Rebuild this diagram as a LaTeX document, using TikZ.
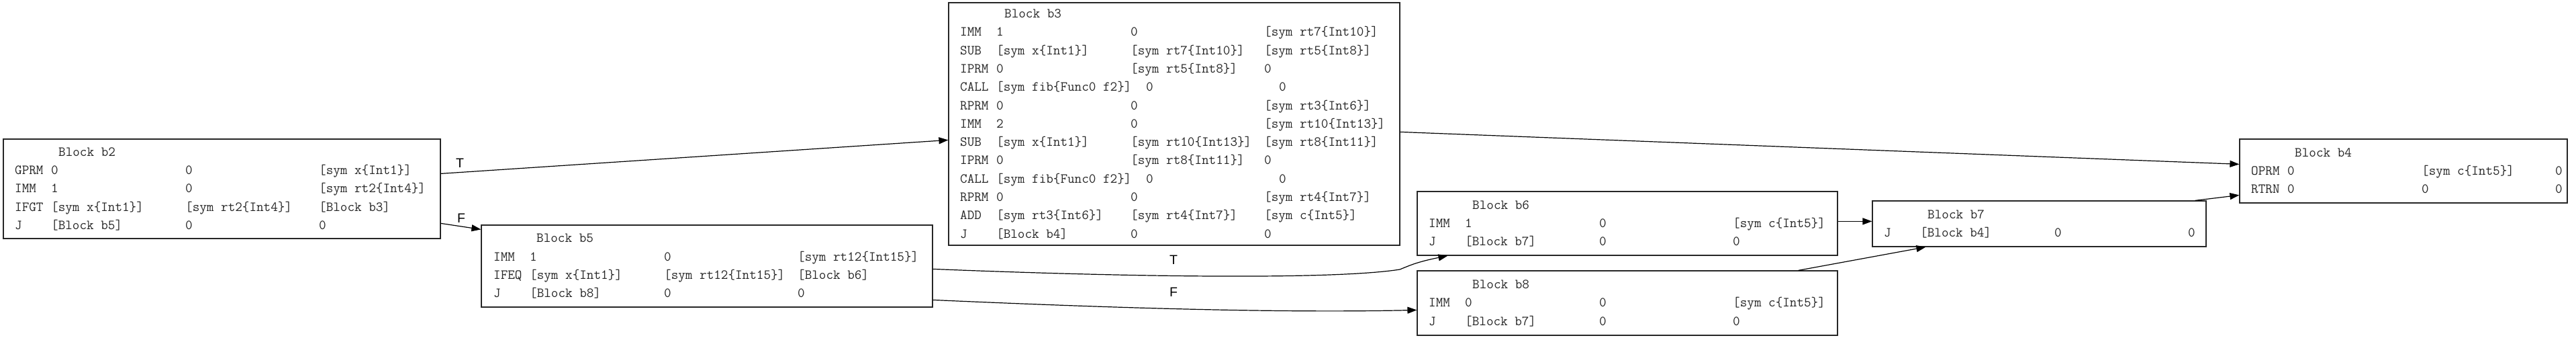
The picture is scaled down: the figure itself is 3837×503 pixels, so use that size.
\documentclass[tikz,border=0pt]{standalone}
\usepackage{fontspec}
\newfontfamily\labfont{Liberation Sans}
\usetikzlibrary{arrows.meta,calc}
\newcommand\insrow[4]{\makebox[54pt][l]{#1}\makebox[200pt][l]{#2}\makebox[199pt][l]{#3}#4}
\newcommand\callrow{\makebox[54pt][l]{CALL}\makebox[223pt][l]{[sym fib\{Func0 f2\}]}\makebox[198pt][l]{0}0}
\begin{document}
\begin{tikzpicture}[x=1pt,y=-1pt,
  blockbox/.style={draw=black!85, line width=1.2pt, rectangle, inner sep=0pt},
  rowtext/.style={font=\fontsize{20.57}{20}\selectfont\ttfamily, inner sep=0pt, anchor=base west, text=black!85, yshift=-0.5pt},
  edge/.style={draw=black, line width=1.2pt, -{Triangle[length=14pt,width=10pt]}},
  elabel/.style={font=\fontsize{19.5}{19.5}\selectfont\labfont, inner sep=0pt}]
\useasboundingbox (0,0) rectangle (3837,503);

% ---------- boxes ----------
\node[blockbox, minimum width=651pt, minimum height=148pt] (b2) at (330.5,281) {};
\node[blockbox, minimum width=672pt, minimum height=361pt] (b3) at (1749,184.5) {};
\node[blockbox, minimum width=672pt, minimum height=122pt] (b5) at (1053,396) {};
\node[blockbox, minimum width=626pt, minimum height=95pt] (b6) at (2424,332.5) {};
\node[blockbox, minimum width=626pt, minimum height=96pt] (b8) at (2424,451) {};
\node[blockbox, minimum width=497pt, minimum height=68pt] (b7) at (3037.5,333) {};
\node[blockbox, minimum width=488pt, minimum height=95pt] (b4) at (3580,254.5) {};

% ---------- b2 ----------
\node[rowtext] (b2t) at (87,231.7) {Block b2};
\node[rowtext] (b2r1) at (22,259.0) {\insrow{GPRM}{0}{0}{[sym x\{Int1\}]}};
\node[rowtext] (b2r2) at (22,286.3) {\insrow{IMM}{1}{0}{[sym rt2\{Int4\}]}};
\node[rowtext] (b2r3) at (22,313.6) {\insrow{IFGT}{[sym x\{Int1\}]}{[sym rt2\{Int4\}]}{[Block b3]}};
\node[rowtext] (b2r4) at (22,340.9) {\insrow{J}{[Block b5]}{0}{0}};

% ---------- b3 ----------
\node[rowtext] (b3t) at (1496,26.0) {Block b3};
\node[rowtext] (b3r1) at (1430,53.3) {\insrow{IMM}{1}{0}{[sym rt7\{Int10\}]}};
\node[rowtext] (b3r2) at (1430,80.6) {\insrow{SUB}{[sym x\{Int1\}]}{[sym rt7\{Int10\}]}{[sym rt5\{Int8\}]}};
\node[rowtext] (b3r3) at (1430,107.9) {\insrow{IPRM}{0}{[sym rt5\{Int8\}]}{0}};
\node[rowtext] (b3r4) at (1430,135.2) {\callrow};
\node[rowtext] (b3r5) at (1430,162.5) {\insrow{RPRM}{0}{0}{[sym rt3\{Int6\}]}};
\node[rowtext] (b3r6) at (1430,189.8) {\insrow{IMM}{2}{0}{[sym rt10\{Int13\}]}};
\node[rowtext] (b3r7) at (1430,217.1) {\insrow{SUB}{[sym x\{Int1\}]}{[sym rt10\{Int13\}]}{[sym rt8\{Int11\}]}};
\node[rowtext] (b3r8) at (1430,244.4) {\insrow{IPRM}{0}{[sym rt8\{Int11\}]}{0}};
\node[rowtext] (b3r9) at (1430,271.7) {\callrow};
\node[rowtext] (b3r10) at (1430,299.0) {\insrow{RPRM}{0}{0}{[sym rt4\{Int7\}]}};
\node[rowtext] (b3r11) at (1430,326.3) {\insrow{ADD}{[sym rt3\{Int6\}]}{[sym rt4\{Int7\}]}{[sym c\{Int5\}]}};
\node[rowtext] (b3r12) at (1430,353.6) {\insrow{J}{[Block b4]}{0}{0}};

% ---------- b5 ----------
\node[rowtext] (b5t) at (799,360.4) {Block b5};
\node[rowtext] (b5r1) at (735,387.7) {\insrow{IMM}{1}{0}{[sym rt12\{Int15\}]}};
\node[rowtext] (b5r2) at (735,415.0) {\insrow{IFEQ}{[sym x\{Int1\}]}{[sym rt12\{Int15\}]}{[Block b6]}};
\node[rowtext] (b5r3) at (735,442.3) {\insrow{J}{[Block b8]}{0}{0}};

% ---------- b6 ----------
\node[rowtext] (b6t) at (2193,310.5) {Block b6};
\node[rowtext] (b6r1) at (2128,337.8) {\insrow{IMM}{1}{0}{[sym c\{Int5\}]}};
\node[rowtext] (b6r2) at (2128,365.1) {\insrow{J}{[Block b7]}{0}{0}};

% ---------- b8 ----------
\node[rowtext] (b8t) at (2193,429.0) {Block b8};
\node[rowtext] (b8r1) at (2128,456.3) {\insrow{IMM}{0}{0}{[sym c\{Int5\}]}};
\node[rowtext] (b8r2) at (2128,483.6) {\insrow{J}{[Block b7]}{0}{0}};

% ---------- b7 ----------
\node[rowtext] (b7t) at (2871,324.7) {Block b7};
\node[rowtext] (b7r1) at (2806,352.0) {\insrow{J}{[Block b4]}{0}{0}};

% ---------- b4 ----------
\node[rowtext] (b4t) at (3418,232.5) {Block b4};
\node[rowtext] (b4r1) at (3353,259.8) {\insrow{OPRM}{0}{[sym c\{Int5\}]}{0}};
\node[rowtext] (b4r2) at (3353,287.1) {\insrow{RTRN}{0}{0}{0}};

% ---------- edges ----------
\draw[edge] ($(b2.north east)+(0,52)$) -- ($(b3.north west)+(0,205)$);
\node[elabel] (lt1) at (685,243) {T};
\draw[edge] ($(b2.north east)+(0,126)$) -- ($(b5.north west)+(0,7)$);
\node[elabel] (lf1) at (687,325) {F};
\draw[edge] ($(b3.north east)+(0,193)$) -- ($(b4.north west)+(0,38)$);
\draw[edge] ($(b5.north east)+(0,66)$) .. controls (1700,413) and (1990,416) .. (2085,401)
   .. controls (2100,395) and (2110,390) .. ($(b6.south west)+(46,0)$);
\node[elabel] (lt2) at (1748,387) {T};
\draw[edge] ($(b5.north east)+(0,112)$) .. controls (1650,458) and (1900,466) .. ($(b8.north west)+(0,59)$);
\node[elabel] (lf2) at (1748,435) {F};
\draw[edge] ($(b6.north east)+(0,45)$) -- ($(b7.north west)+(0,31)$);
\draw[edge] ($(b8.north east)+(-59,0)$) -- ($(b7.south west)+(80,0)$);
\draw[edge] ($(b7.north east)+(-17,0)$) -- ($(b4.north west)+(0,84)$);
\end{tikzpicture}
\end{document}
